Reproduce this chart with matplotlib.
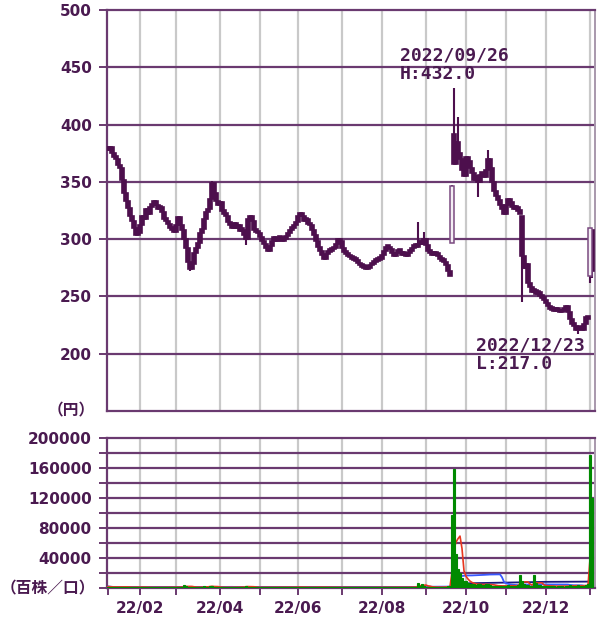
import matplotlib
matplotlib.use('Agg')
import matplotlib.pyplot as plt
import numpy as np
import pandas as pd

# daily closes, one list per month of trading days (2022/01 .. 2023/01)
close_jan = [378, 380, 375, 372, 370, 365, 362, 352, 340, 333, 327, 320, 316, 310, 304, 305]
close_feb = [312, 320, 318, 326, 322, 328, 330, 333, 330, 326, 328, 324, 318, 316, 313, 310, 308, 306]
close_mar = [312, 319, 312, 308, 300, 292, 280, 274, 278, 288, 292, 297, 305, 309, 318, 324, 326, 335,
             349, 340, 333, 330]
close_apr = [332, 325, 322, 320, 315, 312, 310, 314, 310, 312, 307, 308, 304, 300, 318, 320, 316, 308,
             306, 305]
close_may = [302, 298, 296, 292, 290, 294, 298, 302, 298, 300, 302, 298, 300, 303, 305, 308, 310, 312, 315]
close_jun = [320, 322, 320, 316, 318, 313, 312, 308, 304, 298, 293, 290, 286, 283, 287, 289, 290, 291,
             292, 296, 300, 298]
close_jul = [292, 289, 287, 285, 284, 283, 282, 281, 279, 277, 276, 275, 274, 275, 277, 278, 280, 281,
             282, 283]
close_aug = [286, 290, 293, 292, 291, 288, 285, 288, 290, 289, 286, 287, 285, 288, 290, 292, 294, 293,
             296, 297, 296, 300]
close_sep = [295, 290, 288, 286, 287, 286, 285, 283, 281, 280, 277, 272, 268, 346, 366, 385, 375, 370,
             360, 355]
close_oct = [372, 368, 362, 358, 352, 355, 350, 356, 358, 354, 360, 370, 362, 350, 342, 338, 334, 330,
             326, 322]
close_nov = [330, 335, 332, 328, 326, 328, 325, 322, 285, 275, 278, 262, 258, 254, 256, 252, 254, 250,
             249, 247]
close_dec = [244, 242, 239, 238, 237, 238, 237, 236, 237, 238, 242, 236, 230, 226, 224, 221, 222, 223,
             221, 226, 232, 230]
close_jan23 = [310, 272]

# days whose open / wick differ from the plain close-to-close body (global day index)
open_fix = {172: 297, 173: 392, 207: 320, 241: 268, 242: 308}
high_fix = {52: 351, 155: 315, 158: 306, 172: 347, 173: 432, 175: 407, 190: 378}
low_fix = {41: 272, 69: 295, 185: 337, 207: 245, 235: 217, 241: 262, 242: 266}

# volume (hundreds of shares)
vol_jan = [1800, 1500, 1200, 1000, 1300, 1100, 1600, 2000, 1400, 1200, 1000, 1100, 900, 1300, 1500, 1200]
vol_feb = [1400, 1100, 1000, 900, 1200, 1000, 800, 900, 1100, 1000, 800, 900, 1000, 1200, 900, 800, 1000, 1100]
vol_mar = [1200, 1000, 1100, 1400, 3500, 3000, 1500, 1200, 1100, 1000, 1200, 1300, 1100, 1000, 2800, 1500,
           1300, 3200, 2500, 1400, 1100, 1000]
vol_apr = [1000, 1100, 900, 1000, 1200, 1000, 900, 1100, 1000, 1200, 1400, 1300, 1500, 3200, 2000, 1200,
           1000, 900, 1100, 1000]
vol_may = [900, 1000, 1100, 900, 800, 1000, 900, 1100, 1000, 900, 800, 1000, 1100, 900, 1000, 1200, 1100,
           1000, 1300]
vol_jun = [1500, 1300, 1100, 1000, 1200, 1000, 900, 1100, 1200, 1300, 1100, 1000, 1200, 1000, 900, 1000,
           1100, 1000, 900, 1000, 1100, 1000]
vol_jul = [1000, 900, 800, 900, 1000, 800, 900, 1000, 900, 800, 700, 800, 900, 800, 900, 1000, 900, 800,
           900, 1000]
vol_aug = [1100, 1300, 1200, 1000, 1100, 900, 1000, 1100, 1000, 900, 1000, 900, 1000, 1100, 1000, 1200,
           1300, 1400, 7000, 3000, 5000, 2500]
vol_sep = [2000, 1500, 1300, 1200, 1100, 1000, 1200, 1100, 1300, 1500, 1800, 2200, 2600, 97000, 159000,
           45000, 25000, 20000, 14000, 10000]
vol_oct = [9000, 7000, 6000, 5000, 5000, 4000, 6000, 5000, 4000, 4000, 6000, 5000, 4000, 3000, 3000, 3000,
           2500, 3000, 2500, 3000]
vol_nov = [3000, 3500, 3000, 2500, 2500, 3000, 4000, 17000, 10000, 6000, 4000, 3500, 3000, 3000, 17000,
           7000, 4000, 3500, 3000, 3000]
vol_dec = [3000, 2500, 2500, 3000, 2500, 2000, 2500, 3000, 2500, 2000, 2500, 3000, 3500, 3000, 2500, 3000,
           3500, 3000, 2500, 3000, 4000, 5000]
vol_jan23 = [178000, 120000]

month_labels = ['22/01', '22/02', '22/03', '22/04', '22/05', '22/06', '22/07', '22/08', '22/09',
                '22/10', '22/11', '22/12', '23/01']
close_months = [close_jan, close_feb, close_mar, close_apr, close_may, close_jun, close_jul, close_aug,
                close_sep, close_oct, close_nov, close_dec, close_jan23]
vol_months = [vol_jan, vol_feb, vol_mar, vol_apr, vol_may, vol_jun, vol_jul, vol_aug, vol_sep, vol_oct,
              vol_nov, vol_dec, vol_jan23]

PURPLE = '#4d0f4d'
GRIDP = '#6a3a70'
TXT = '#4a1a50'
GRAY = '#c9c9c9'

close = np.array(sum(close_months, []), dtype=float)
volume = np.array(sum(vol_months, []), dtype=float)
days = np.arange(len(close))
month_start = np.cumsum([0] + [len(m) for m in close_months[:-1]])

opn = np.r_[close[0], close[:-1]]
for k, v in open_fix.items():
    opn[k] = v
high = np.maximum(opn, close)
low = np.minimum(opn, close)
for k, v in high_fix.items():
    high[k] = v
for k, v in low_fix.items():
    low[k] = v

fig = plt.figure(figsize=(6, 6.24), dpi=100)
W, H = 600.0, 624.0
ax = fig.add_axes([107 / W, 1 - 411 / H, 488 / W, 401 / H])
axv = fig.add_axes([107 / W, 1 - 588 / H, 488 / W, 150 / H])

# ---- price panel
for m in month_start[1:]:
    ax.axvline(m, color=GRAY, lw=1.6, zorder=0)
for lvl in range(200, 500, 50):
    ax.axhline(lvl, color=GRIDP, lw=1.6, zorder=1)

ax.vlines(days, low, high, color=PURPLE, lw=1.5, zorder=2)
body = np.abs(close - opn)
up = close >= opn
big_up = up & (body > 20)
# ordinary candles: thick, dark trace
ax.bar(days[~big_up], np.maximum(body[~big_up], 2.5), bottom=np.minimum(opn, close)[~big_up],
       width=1.6, color=PURPLE, edgecolor=PURPLE, linewidth=1.2, zorder=3)
# tall white (rising) candles
ax.bar(days[big_up], body[big_up], bottom=opn[big_up], width=2.2,
       color='#f4eef4', edgecolor='#7a4a80', linewidth=1.1, zorder=3)

ax.set_xlim(-0.5, len(close) + 0.5)
ax.set_ylim(150, 500)
ax.set_yticks(range(200, 501, 50))
ax.set_xticks([])

# ---- volume panel
for m in month_start[1:]:
    axv.axvline(m, color=GRAY, lw=1.6, zorder=0)
for lvl in range(20000, 200000, 20000):
    axv.axhline(lvl, color=GRIDP, lw=1.6, zorder=1)

vs = pd.Series(volume)
axv.plot(days, vs.rolling(75, min_periods=1).mean(), color='#1a1a80', lw=1.3, zorder=3)
axv.plot(days, vs.rolling(25, min_periods=1).mean(), color='#3858ff', lw=1.3, zorder=3)
axv.plot(days, vs.rolling(5, min_periods=1).mean(), color='#e8361e', lw=1.2, zorder=4)
axv.bar(days, volume, width=1.0, color='#008a00', edgecolor='#008a00', linewidth=0.8, zorder=5)

axv.set_xlim(-0.5, len(close) + 0.5)
axv.set_ylim(0, 200000)
axv.set_yticks(range(0, 200001, 20000))
axv.set_yticklabels(['' if (v % 40000 or v == 0) else str(v) for v in range(0, 200001, 20000)])
axv.set_xticks(month_start)
axv.set_xticklabels([lab if i % 2 == 1 else '' for i, lab in enumerate(month_labels)])

for a in (ax, axv):
    for s in ('left', 'bottom', 'top'):
        a.spines[s].set_color(GRIDP)
        a.spines[s].set_linewidth(1.6)
    a.spines['right'].set_color('#a898ac')
    a.spines['right'].set_linewidth(1.4)
    a.tick_params(axis='y', length=6, width=1.4, color=GRIDP, pad=5, labelsize=11,
                  labelcolor=TXT)
    a.tick_params(axis='x', length=5, width=1.4, color=GRIDP, pad=4, labelsize=11,
                  labelcolor=TXT)
    for t in a.get_yticklabels() + a.get_xticklabels():
        t.set_fontweight('bold')

# ---- texts
def fpos(x, y):
    return x / W, 1 - y / H

mono = dict(family='DejaVu Sans Mono', fontweight='bold', fontsize=13, color=TXT)
fig.text(*fpos(400, 46), '2022/09/26', va='top', ha='left', **mono)
fig.text(*fpos(400, 65), 'H:432.0', va='top', ha='left', **mono)
fig.text(*fpos(476, 336), '2022/12/23', va='top', ha='left', **mono)
fig.text(*fpos(476, 355), 'L:217.0', va='top', ha='left', **mono)

cjk = dict(family=['Noto Sans CJK JP', 'DejaVu Sans'], fontweight='bold', fontsize=11.3, color=TXT)
fig.text(*fpos(95, 410), '（円）', va='center', ha='right', **cjk)
fig.text(*fpos(95, 588), '（百株／口）', va='center', ha='right', **cjk)

fig.savefig('out.png', dpi=100)
plt.close(fig)
